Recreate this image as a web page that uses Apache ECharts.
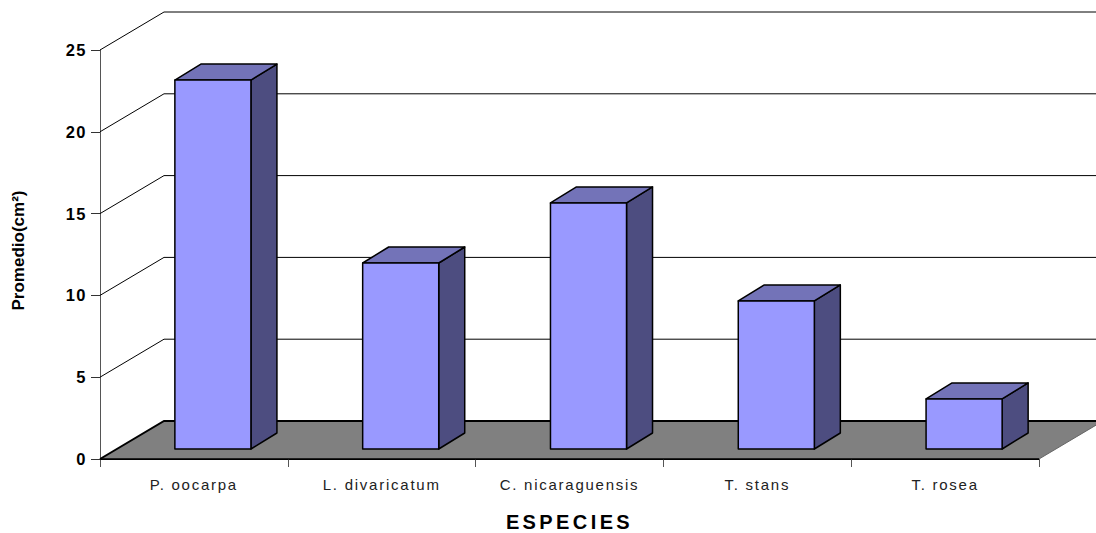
<!DOCTYPE html>
<html>
<head>
<meta charset="utf-8">
<style>
  html, body { margin: 0; padding: 0; background: #fff; }
  #chart { width: 1096px; height: 533px; letter-spacing: 1.75px; }
  /* el renderer svg hereda el espaciado de letras */
  #chart text[style*="20px"] { letter-spacing: 3.4px; }
  #chart text[style*="17px"] { letter-spacing: 0; }
  #chart text[style*="16.5px"] { letter-spacing: 1.5px; }
</style>
<script src="https://cdn.jsdelivr.net/npm/echarts@6/dist/echarts.min.js"></script>
</head>
<body>
<div id="chart"></div>
<script>
  var categories = ['P. oocarpa', 'L. divaricatum', 'C. nicaraguensis', 'T. stans', 'T. rosea'];
  var promedio = [22.55, 11.37, 15.04, 9.05, 3.06];
  var yTicks = [0, 5, 10, 15, 20, 25];

  // profundidad del efecto 3D, en pixeles
  var wallDx = 64, wallDy = -38;
  var barDx = 19, barDy = -10;
  var sideDx = 26, sideDy = -16;

  var chart = echarts.init(document.getElementById('chart'), null, { renderer: 'svg' });

  function renderGridLine(params, api) {
    var p = api.coord([0, api.value(0)]);
    var x0 = params.coordSys.x;
    var x1 = x0 + params.coordSys.width;
    return {
      type: 'polyline',
      shape: { points: [[x0, p[1]], [x0 + wallDx, p[1] + wallDy], [x1 + wallDx, p[1] + wallDy]] },
      style: { fill: null, stroke: '#000', lineWidth: 1 }
    };
  }

  function renderFloor(params, api) {
    var y = api.coord([0, 0])[1];
    var x0 = params.coordSys.x;
    var x1 = x0 + params.coordSys.width;
    return {
      type: 'group',
      children: [
        {
          type: 'polygon',
          shape: { points: [[x0, y], [x1, y], [x1 + wallDx, y + wallDy], [x0 + wallDx, y + wallDy]] },
          style: { fill: '#808080', stroke: null }
        },
        {
          type: 'polyline',
          shape: { points: [[x0, y], [x0 + wallDx, y + wallDy], [x1 + wallDx, y + wallDy]] },
          style: { fill: null, stroke: '#000', lineWidth: 2 }
        },
        {
          type: 'line',
          shape: { x1: x0, y1: y, x2: x1, y2: y },
          style: { stroke: '#000', lineWidth: 1.5 }
        },
        {
          type: 'line',
          shape: { x1: x1, y1: y, x2: x1 + wallDx, y2: y + wallDy },
          style: { stroke: '#666', lineWidth: 1 }
        }
      ]
    };
  }

  function renderBar(params, api) {
    var top = api.coord([api.value(0), api.value(1)]);
    var base = api.coord([api.value(0), 0]);
    var w = api.size([1, 0])[0] * 0.405;
    var l = top[0] + barDx - w / 2;
    var r = l + w;
    var t = top[1] + barDy;
    var b = base[1] + barDy;
    var edge = { stroke: '#000', lineWidth: 1.5, lineJoin: 'round' };
    return {
      type: 'group',
      children: [
        {
          type: 'polygon',
          shape: { points: [[r, t], [r + sideDx, t + sideDy], [r + sideDx, b + sideDy], [r, b]] },
          style: Object.assign({ fill: '#4D4D80' }, edge)
        },
        {
          type: 'polygon',
          shape: { points: [[l, t], [l + sideDx, t + sideDy], [r + sideDx, t + sideDy], [r, t]] },
          style: Object.assign({ fill: '#7373B8' }, edge)
        },
        {
          type: 'rect',
          shape: { x: l, y: t, width: w, height: b - t },
          style: Object.assign({ fill: '#9999FF' }, edge)
        }
      ]
    };
  }

  var option = {
    animation: false,
    tooltip: { show: false },
    grid: { left: 100, right: 57, top: 50, bottom: 74, outerBoundsMode: 'none' },
    xAxis: {
      type: 'category',
      data: categories,
      name: 'ESPECIES',
      nameLocation: 'middle',
      nameGap: 53,
      nameTextStyle: { fontFamily: 'Liberation Sans', fontSize: 20, fontWeight: 'bold', color: '#000' },
      axisLine: { lineStyle: { color: '#000', width: 1 } },
      axisTick: { show: true, alignWithLabel: false, length: 8, lineStyle: { color: '#555', width: 1 } },
      axisLabel: { fontFamily: 'Liberation Sans', fontSize: 15, color: '#222', margin: 18, interval: 0 },
      splitLine: { show: false }
    },
    yAxis: {
      type: 'value',
      min: 0,
      max: 25,
      interval: 5,
      name: 'Promedio(cm²)',
      nameLocation: 'middle',
      nameGap: 73,
      nameTextStyle: { fontFamily: 'Liberation Sans', fontSize: 17, fontWeight: 'bold', color: '#000', padding: [0, 0, 0, 8] },
      axisLine: { show: true, lineStyle: { color: '#555', width: 1 } },
      axisTick: { show: true, length: 9, lineStyle: { color: '#333', width: 1 } },
      axisLabel: { fontFamily: 'Liberation Sans', fontSize: 16.5, fontWeight: 'bold', color: '#000', margin: 13 },
      splitLine: { show: false }
    },
    series: [
      {
        type: 'custom',
        silent: true,
        z: 1,
        data: yTicks.slice(1).map(function (v) { return [v]; }),
        encode: { y: 0 },
        renderItem: renderGridLine
      },
      {
        type: 'custom',
        silent: true,
        z: 2,
        data: [[0]],
        encode: { y: 0 },
        renderItem: renderFloor
      },
      {
        type: 'custom',
        silent: true,
        z: 3,
        data: categories.map(function (c, i) { return [i, promedio[i]]; }),
        encode: { x: 0, y: 1 },
        renderItem: renderBar
      }
    ]
  };

  chart.setOption(option);
</script>
</body>
</html>
